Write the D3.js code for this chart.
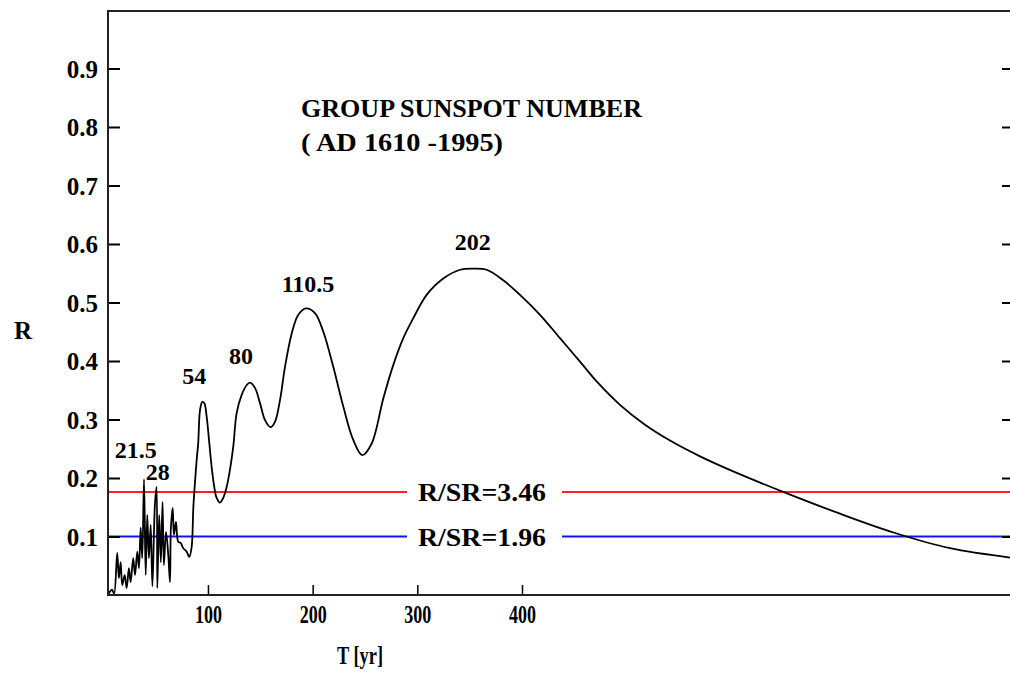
<!DOCTYPE html>
<html>
<head>
<meta charset="utf-8">
<script src="https://cdnjs.cloudflare.com/ajax/libs/d3/7.8.5/d3.min.js"></script>
<style>
  body { margin: 0; background: #fff; }
  svg text { font-family: "Liberation Serif", "DejaVu Serif", serif; font-weight: bold; fill: #000; }
</style>
</head>
<body>
<div id="chart"></div>
<script>
// values (T axis units, R)
var curveT = [4.5, 5.4, 8.3, 10.3, 13.3, 14.9, 16.6, 18.1, 20.4, 22.3, 24.5, 26.1, 28.6, 30.3, 32.5, 34.1,
    35.7, 37.2, 38.9, 40.5, 42.0, 43.6, 45.3, 46.9, 49.3, 50.9, 51.6, 53.4, 55.0, 56.6, 57.9, 59.9,
    62.1, 63.7, 64.6, 66.3, 67.5, 69.4, 71.6, 73.9, 76.4, 79.7, 82.1, 84.4, 86.0, 87.6, 89.2, 90.7,
    92.4, 94.6, 96.5, 98.8, 101.0, 103.5, 106.0, 108.3, 111.5, 114.6, 117.9, 121.0, 124.2, 127.4,
    132.2, 137.0, 140.1, 144.9, 149.7, 154.5, 159.9, 164.0, 168.8, 173.6, 180.0, 186.3, 193.6, 202.2,
    210.2, 219.7, 229.3, 238.8, 247.4, 256.4, 267.5, 277.0, 286.6, 296.1, 308.9, 324.8, 340.8, 353.5,
    366.3, 382.1, 398.1, 417.2, 436.3, 455.4, 472.9, 493.6, 517.5, 541.4, 570.1, 603.5, 651.3, 703.8,
    756.4, 808.9, 866.2];
var curveR = [0, 0.003, 0.009, 0.002, 0.072, 0.029, 0.056, 0.017, 0.034, 0.012, 0.046, 0.022, 0.063, 0.034, 0.074, 0.046,
    0.115, 0.063, 0.198, 0.034, 0.137, 0.063, 0.120, 0.015, 0.154, 0.185, 0.012, 0.137, 0.056, 0.159, 0.051, 0.108,
    0.068, 0.022, 0.115, 0.149, 0.103, 0.125, 0.091, 0.089, 0.080, 0.074, 0.065, 0.082, 0.149, 0.193, 0.231, 0.260,
    0.316, 0.330, 0.328, 0.304, 0.265, 0.219, 0.185, 0.166, 0.158, 0.166, 0.185, 0.214, 0.254, 0.311,
    0.342, 0.359, 0.363, 0.354, 0.328, 0.299, 0.287, 0.296, 0.333, 0.390, 0.447, 0.479, 0.490, 0.482,
    0.450, 0.390, 0.322, 0.265, 0.239, 0.259, 0.336, 0.393, 0.439, 0.473, 0.513, 0.541, 0.556, 0.558,
    0.556, 0.538, 0.513, 0.479, 0.439, 0.399, 0.362, 0.325, 0.291, 0.264, 0.237, 0.210, 0.175, 0.139,
    0.106, 0.080, 0.064];

var xTicks = [100, 200, 300, 400];
var yTicks = [0.1, 0.2, 0.3, 0.4, 0.5, 0.6, 0.7, 0.8, 0.9];

// significance levels
var levels = [
    {r: 0.176, label: "R/SR=3.46", color: "#ff2020"},
    {r: 0.100, label: "R/SR=1.96", color: "#1010ff"}
];

// peak periods and where their labels sit (T, R of label baseline)
var peakNames = ["21.5", "28", "54", "80", "110.5", "202"];
var peakT = [31.0, 52.0, 87.0, 131.5, 195.6, 353.0];
var peakR = [0.234, 0.197, 0.361, 0.395, 0.518, 0.590];

var W = 1010, H = 675;
var plotL = 108, plotR = 1010, plotT = 10, plotB = 595;

var svg = d3.select("#chart").append("svg")
    .attr("width", W)
    .attr("height", H);

var x = d3.scaleLinear().domain([4.5, 866.2]).range([plotL, plotR]);
var y = d3.scaleLinear().domain([0, 1]).range([plotB, plotT]);

svg.append("clipPath").attr("id", "plotclip")
    .append("rect")
    .attr("x", plotL).attr("y", plotT)
    .attr("width", plotR - plotL).attr("height", plotB - plotT);

// reference levels with a gap for their text
var gapL = 407, gapR = 562;
levels.forEach(function(d) {
    var g = svg.append("g");
    g.append("line")
        .attr("x1", plotL).attr("x2", gapL)
        .attr("y1", y(d.r)).attr("y2", y(d.r))
        .style("stroke", d.color).style("stroke-width", 2);
    g.append("line")
        .attr("x1", gapR).attr("x2", plotR)
        .attr("y1", y(d.r)).attr("y2", y(d.r))
        .style("stroke", d.color).style("stroke-width", 2);
    g.append("text")
        .attr("x", 418)
        .attr("y", y(d.r) + 9)
        .attr("textLength", 128)
        .attr("lengthAdjust", "spacingAndGlyphs")
        .style("font-size", "26px")
        .text(d.label);
});

// the spectrum
var pts = curveT.map(function(t, i) { return [t, curveR[i]]; });
var line = d3.line()
    .x(function(d) { return x(d[0]); })
    .y(function(d) { return y(d[1]); })
    .curve(d3.curveCatmullRom.alpha(0.5));

svg.append("path")
    .datum(pts)
    .attr("d", line)
    .attr("clip-path", "url(#plotclip)")
    .style("fill", "none")
    .style("stroke", "#000")
    .style("stroke-width", 1.8)
    .style("stroke-linejoin", "round");

// axes, ticks pointing inward
var yAxis = svg.append("g")
    .attr("transform", "translate(" + plotL + ",0)")
    .call(d3.axisLeft(y).tickValues(yTicks).tickSize(-12).tickPadding(10)
        .tickFormat(d3.format(".1f")));
yAxis.select(".domain").remove();
yAxis.selectAll("text").style("font-size", "25px").attr("dy", "0.35em");
yAxis.selectAll("line").style("stroke", "#000").style("stroke-width", 2);

var yAxisR = svg.append("g")
    .attr("transform", "translate(" + plotR + ",0)")
    .call(d3.axisLeft(y).tickValues(yTicks).tickSize(8).tickFormat(""));
yAxisR.select(".domain").remove();
yAxisR.selectAll("line").style("stroke", "#000").style("stroke-width", 2);

var xAxis = svg.append("g")
    .attr("transform", "translate(0," + plotB + ")")
    .call(d3.axisBottom(x).tickValues(xTicks).tickSize(-10).tickPadding(10));
xAxis.select(".domain").remove();
xAxis.selectAll("text")
    .style("font-size", "26px")
    .attr("textLength", 27)
    .attr("lengthAdjust", "spacingAndGlyphs");
xAxis.selectAll("line").style("stroke", "#000").style("stroke-width", 1.5);

// frame
svg.append("path")
    .attr("d", "M" + plotR + "," + (plotT + 1) + "H" + plotL + "V" + plotB + "H" + plotR)
    .style("fill", "none")
    .style("stroke", "#222")
    .style("stroke-width", 2);

// peak labels
svg.selectAll(".peak")
    .data(peakNames)
    .enter()
    .append("text")
    .attr("class", "peak")
    .attr("x", function(d, i) { return x(peakT[i]); })
    .attr("y", function(d, i) { return y(peakR[i]); })
    .attr("text-anchor", "middle")
    .style("font-size", "24px")
    .text(function(d) { return d; });

// title
svg.append("text").attr("x", 301).attr("y", 117)
    .attr("textLength", 341).attr("lengthAdjust", "spacingAndGlyphs")
    .style("font-size", "26px").text("GROUP SUNSPOT NUMBER");
svg.append("text").attr("x", 301).attr("y", 151)
    .attr("textLength", 202).attr("lengthAdjust", "spacingAndGlyphs")
    .style("font-size", "26px").text("( AD 1610 -1995)");

// axis titles
svg.append("text").attr("x", 337).attr("y", 664)
    .attr("textLength", 46).attr("lengthAdjust", "spacingAndGlyphs")
    .style("font-size", "26px").text("T [yr]");
svg.append("text").attr("x", 23).attr("y", 339)
    .attr("text-anchor", "middle")
    .style("font-size", "25px").text("R");
</script>
</body>
</html>
